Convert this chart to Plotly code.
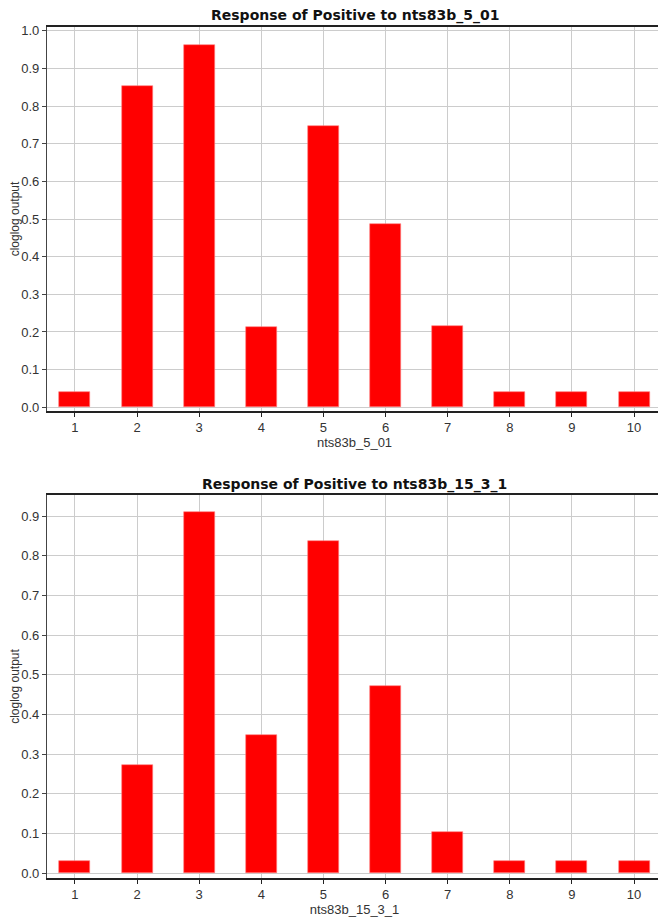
import plotly.graph_objects as go

categories = [1, 2, 3, 4, 5, 6, 7, 8, 9, 10]
values_top = [0.04, 0.852, 0.962, 0.213, 0.748, 0.486, 0.217, 0.04, 0.04, 0.04]
values_bottom = [0.031, 0.273, 0.91, 0.349, 0.836, 0.471, 0.105, 0.031, 0.031, 0.031]
title_top = "Response of Positive to nts83b_5_01"
title_bottom = "Response of Positive to nts83b_15_3_1"
xlabel_top = "nts83b_5_01"
xlabel_bottom = "nts83b_15_3_1"
ylabel = "cloglog output"

# The page body has an 8px default margin; size the figure to fit the window.
OFF = 8
W, H = 666 - OFF, 921 - OFF
ml, mr, mt, mb = 47 - OFF, 4, 27 - OFF, 43
ph = H - mt - mb

def py(pix_page):
    pix = pix_page - OFF
    return (H - mb - pix) / ph

fig = go.Figure()
fig.add_trace(go.Bar(x=categories, y=values_top, width=0.5, xaxis="x", yaxis="y",
                     marker=dict(color="#ff0000", line=dict(color="#ff8080", width=0.6)),
                     showlegend=False))
fig.add_trace(go.Bar(x=categories, y=values_bottom, width=0.5, xaxis="x2", yaxis="y2",
                     marker=dict(color="#ff0000", line=dict(color="#ff8080", width=0.6)),
                     showlegend=False))

lab_font = dict(family="Liberation Sans, Arial, sans-serif", size=13, color="#333333")
ylab_font = dict(family="Liberation Sans, Arial, sans-serif", size=12, color="#333333")
tickfont = dict(family="Liberation Sans, Arial, sans-serif", size=13, color="#333333")
common_x = dict(range=[0.55, 10.45], tickmode="array", tickvals=categories,
                ticktext=[str(c) for c in categories], showgrid=True, gridcolor="#cccccc",
                gridwidth=1.3, showline=True, linecolor="#222222", linewidth=1.5, mirror=True,
                ticks="outside", ticklen=4, tickcolor="#222222", tickfont=tickfont,
                zeroline=False, fixedrange=True, automargin=False)
common_y = dict(tickformat=".1f", dtick=0.1, showgrid=True, gridcolor="#cccccc", gridwidth=1.3,
                showline=True, linecolor="#444444", linewidth=1.2, ticks="outside", ticklen=4,
                tickcolor="#444444", tickfont=tickfont, zeroline=False, fixedrange=True,
                automargin=False)

fig.update_layout(
    width=W, height=H, margin=dict(l=ml, r=mr, t=mt, b=mb),
    plot_bgcolor="white", paper_bgcolor="white", bargap=0,
    xaxis=dict(domain=[0, 1], anchor="y", **common_x,
               title=dict(text=xlabel_top, standoff=2, font=lab_font)),
    yaxis=dict(domain=[py(411), 1], anchor="x", range=[-0.01, 1.01], **common_y,
               title=dict(text=ylabel, standoff=6, font=ylab_font)),
    xaxis2=dict(domain=[0, 1], anchor="y2", **common_x,
                title=dict(text=xlabel_bottom, standoff=2, font=lab_font)),
    yaxis2=dict(domain=[0, py(495)], anchor="x2", range=[-0.012, 0.953], **common_y,
                title=dict(text=ylabel, standoff=6, font=ylab_font)),
    annotations=[
        dict(text="<b>" + title_top + "</b>", x=0.5, y=py(16), xref="paper", yref="paper",
             xanchor="center", yanchor="middle", showarrow=False,
             font=dict(family="DejaVu Sans, sans-serif", size=14, color="#111111")),
        dict(text="<b>" + title_bottom + "</b>", x=0.5, y=py(484), xref="paper", yref="paper",
             xanchor="center", yanchor="middle", showarrow=False,
             font=dict(family="DejaVu Sans, sans-serif", size=14, color="#111111")),
    ],
)

fig.write_html("out.html")
